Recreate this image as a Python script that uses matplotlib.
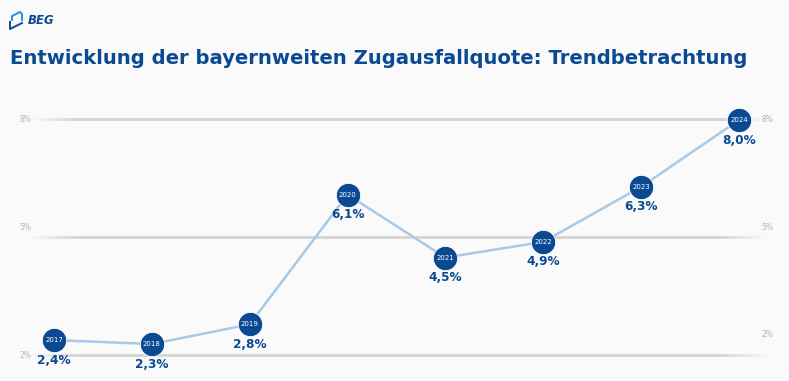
import numpy as np
import matplotlib.pyplot as plt

# data
years = [2017, 2018, 2019, 2020, 2021, 2022, 2023, 2024]
quote = [2.4, 2.3, 2.8, 6.1, 4.5, 4.9, 6.3, 8.0]
value_labels = ["2,4%", "2,3%", "2,8%", "6,1%", "4,5%", "4,9%", "6,3%", "8,0%"]
grid_values = [8, 5, 2]
grid_labels = ["8%", "5%", "2%"]

title = "Entwicklung der bayernweiten Zugausfallquote: Trendbetrachtung"

DARK = "#0b4a93"
LINE = "#a9c9e6"
TICK = "#b5b5b5"
BG = "#fafafa"

W, H = 789, 381
fig = plt.figure(figsize=(W / 100, H / 100), dpi=100, facecolor=BG)
ax = fig.add_axes([0, 0, 1, 1])
ax.set_facecolor(BG)

# map data so the years / values land where they sit in the picture
px_year = (739 - 54) / 7
px_pct = 39.3
ax.set_xlim(2017 - 54 / px_year, 2017 + (W - 54) / px_year)
ax.set_ylim(8 - (H - 120) / px_pct, 8 + 120 / px_pct)
ax.axis("off")

# grid lines, fading at both ends (drawn as a thin gradient image)
x0, x1 = 2017 - 24 / px_year, 2017 + (768 - 54) / px_year
xs = np.linspace(x0, x1, 400)
fade = np.clip(np.minimum(xs - x0, x1 - xs) / (45 / px_year), 0, 1)
grad = np.zeros((1, len(xs), 4))
grad[0, :, :3] = 0.84
grad[0, :, 3] = fade
half = 1.1 / px_pct
for g in grid_values:
    ax.imshow(grad, extent=(x0, x1, g - half, g + half), aspect="auto",
              interpolation="bilinear", zorder=1)

# tick labels left and right
left_off = [0, 10, 0]
right_off = [0, 10, 21]
for g, lab, lo, ro in zip(grid_values, grid_labels, left_off, right_off):
    ax.annotate(lab, (2017 - 29 / px_year, g), xytext=(0, lo), textcoords="offset pixels",
                fontsize=5.5, color=TICK, ha="center", va="center")
    ax.annotate(lab, (2017 + (767 - 54) / px_year, g), xytext=(0, ro), textcoords="offset pixels",
                fontsize=5.5, color=TICK, ha="center", va="center")

# trend line and markers
ax.plot(years, quote, color=LINE, lw=1.8, zorder=2)
ax.scatter(years, quote, s=17.5 ** 2, color=DARK, edgecolor="#ffffff", linewidth=0.6, zorder=3)

for y, q, lab in zip(years, quote, value_labels):
    ax.text(y, q, str(y), color="white", fontsize=5, ha="center", va="center", zorder=4)
    ax.annotate(lab, (y, q), xytext=(0, -20), textcoords="offset pixels",
                fontsize=8.7, fontweight="heavy", color=DARK, ha="center", va="center", zorder=4)

ax.set_xlim(2017 - 54 / px_year, 2017 + (W - 54) / px_year)
ax.set_ylim(8 - (H - 120) / px_pct, 8 + 120 / px_pct)

# title
fig.text(10 / W, 1 - 58 / H, title, fontsize=14.1, fontweight="bold", color=DARK,
         ha="left", va="center")

# logo
fig.text(28 / W, 1 - 20 / H, "BEG", fontsize=8.5, fontweight="bold", fontstyle="italic",
         color=DARK, ha="left", va="center")
lx = np.array([12, 12, 20, 22, 22]) / W
ly = 1 - np.array([20, 16, 12, 14, 20]) / H
fig.add_artist(plt.Line2D(lx, ly, color="#2a8fe0", lw=1.4))
dx = np.array([10, 10, 22]) / W
dy = 1 - np.array([22, 29, 23]) / H
fig.add_artist(plt.Line2D(dx, dy, color=DARK, lw=1.4))

fig.savefig("out.png", dpi=100, facecolor=BG)
